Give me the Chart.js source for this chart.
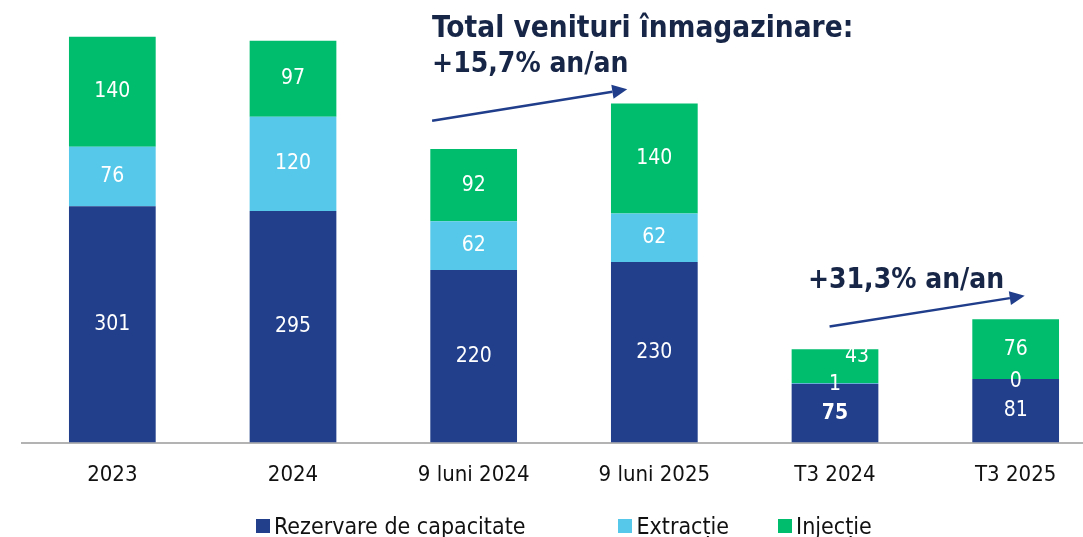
<!DOCTYPE html>
<html>
<head>
<meta charset="utf-8">
<script src="https://cdn.jsdelivr.net/npm/chart.js@4.4.0/dist/chart.umd.min.js"></script>
<style>
    html, body { margin: 0; padding: 0; background: #fff; overflow: hidden; }
    #wrap { position: relative; width: 1140px; height: 548px; }
    #legend { position: absolute; left: 256px; top: 513px; display: flex; align-items: center;
              font-family: 'DejaVu Sans Condensed', 'DejaVu Sans', sans-serif; font-size: 23px; color: #111; white-space: nowrap; }
    #legend .item { display: flex; align-items: center; }
    #legend .box { width: 14px; height: 14px; margin-right: 4px; }
</style>
</head>
<body>
<div id="wrap">
    <canvas id="storageChart" width="1140" height="548"></canvas>
    <div id="legend"></div>
</div>
<script>
const categories = ['2023', '2024', '9 luni 2024', '9 luni 2025', 'T3 2024', 'T3 2025'];
const rezervare = [301, 295, 220, 230, 75, 81];
const extractie = [76, 120, 62, 62, 1, 0];
const injectie = [140, 97, 92, 140, 43, 76];

const FONT = "'DejaVu Sans Condensed', 'DejaVu Sans', sans-serif";
const NAVY = '#1f3d8a';
const TEXT_DARK = '#172647';

// label nudges for the crowded T3 2024 / T3 2025 bars
const labelShift = { '2:4': [22, -10], '1:4': [0, 1], '1:5': [0, 3] };
const boldLabels = { '0:4': true };

const barLabels = {
    id: 'barLabels',
    afterDatasetsDraw(chart) {
        const ctx = chart.ctx;
        ctx.save();
        ctx.fillStyle = '#fff';
        ctx.textAlign = 'center';
        ctx.textBaseline = 'middle';
        chart.data.datasets.forEach((ds, di) => {
            chart.getDatasetMeta(di).data.forEach((bar, i) => {
                const key = di + ':' + i;
                const shift = labelShift[key] || [0, 0];
                ctx.font = (boldLabels[key] ? 'bold ' : '') + '21px ' + FONT;
                ctx.fillText(ds.data[i], bar.x + shift[0], (bar.y + bar.base) / 2 + shift[1]);
            });
        });
        ctx.restore();
    }
};

// growth callouts, anchored in category / value units
const callouts = [
    { lines: ['Total venituri înmagazinare:', '+15,7% an/an'], sizes: [29.5, 28], at: [1.77, 517], from: [1.77, 410], to: [2.85, 450] },
    { lines: ['+31,3% an/an'], sizes: [28], at: [3.85, 197], from: [3.97, 148], to: [5.05, 187] }
];

function drawArrow(ctx, x1, y1, x2, y2) {
    const ang = Math.atan2(y2 - y1, x2 - x1);
    const len = 15, half = 7;
    ctx.beginPath();
    ctx.moveTo(x1, y1);
    ctx.lineTo(x2 - Math.cos(ang) * len, y2 - Math.sin(ang) * len);
    ctx.stroke();
    ctx.beginPath();
    ctx.moveTo(x2, y2);
    ctx.lineTo(x2 - Math.cos(ang) * len - Math.sin(ang) * half, y2 - Math.sin(ang) * len + Math.cos(ang) * half);
    ctx.lineTo(x2 - Math.cos(ang) * len + Math.sin(ang) * half, y2 - Math.sin(ang) * len - Math.cos(ang) * half);
    ctx.closePath();
    ctx.fill();
}

const growthNotes = {
    id: 'growthNotes',
    afterDraw(chart) {
        const ctx = chart.ctx;
        const xs = chart.scales.x, ys = chart.scales.y;
        ctx.save();
        callouts.forEach(c => {
            ctx.fillStyle = TEXT_DARK;
            ctx.textAlign = 'left';
            ctx.textBaseline = 'alphabetic';
            const tx = xs.getPixelForValue(c.at[0]);
            const ty = ys.getPixelForValue(c.at[1]);
            c.lines.forEach((t, k) => {
                ctx.font = 'bold ' + c.sizes[k] + 'px ' + FONT;
                ctx.fillText(t, tx, ty + k * 35);
            });
            ctx.strokeStyle = NAVY;
            ctx.fillStyle = NAVY;
            ctx.lineWidth = 2.5;
            drawArrow(ctx,
                xs.getPixelForValue(c.from[0]), ys.getPixelForValue(c.from[1]),
                xs.getPixelForValue(c.to[0]), ys.getPixelForValue(c.to[1]));
        });
        ctx.restore();
    }
};

const ctx = document.getElementById('storageChart').getContext('2d');
const chart = new Chart(ctx, {
    type: 'bar',
    data: {
        labels: categories,
        datasets: [
            { label: 'Rezervare de capacitate', data: rezervare, backgroundColor: '#213f8a' },
            { label: 'Extracție', data: extractie, backgroundColor: '#56c8e9' },
            { label: 'Injecție', data: injectie, backgroundColor: '#00bd6e' }
        ]
    },
    options: {
        responsive: false,
        animation: false,
        layout: { padding: { left: 22, right: 34, top: 3, bottom: 41 } },
        datasets: { bar: { barPercentage: 0.48, categoryPercentage: 1 } },
        plugins: {
            legend: { display: false },
            tooltip: { enabled: false }
        },
        scales: {
            x: {
                stacked: true,
                grid: { display: false, drawTicks: false },
                border: { color: '#b3b3b3', width: 2 },
                ticks: { color: '#111', padding: 19, font: { family: FONT, size: 22 } }
            },
            y: {
                stacked: true,
                display: false,
                min: 0,
                max: 560
            }
        }
    },
    plugins: [barLabels, growthNotes]
});

// html legend built from the datasets
const legendEl = document.getElementById('legend');
const gaps = [93, 49, 0];
chart.data.datasets.forEach((ds, i) => {
    const item = document.createElement('div');
    item.className = 'item';
    item.style.marginRight = gaps[i] + 'px';
    item.innerHTML = '<span class="box" style="background:' + ds.backgroundColor + '"></span><span>' + ds.label + '</span>';
    legendEl.appendChild(item);
});
</script>
</body>
</html>
